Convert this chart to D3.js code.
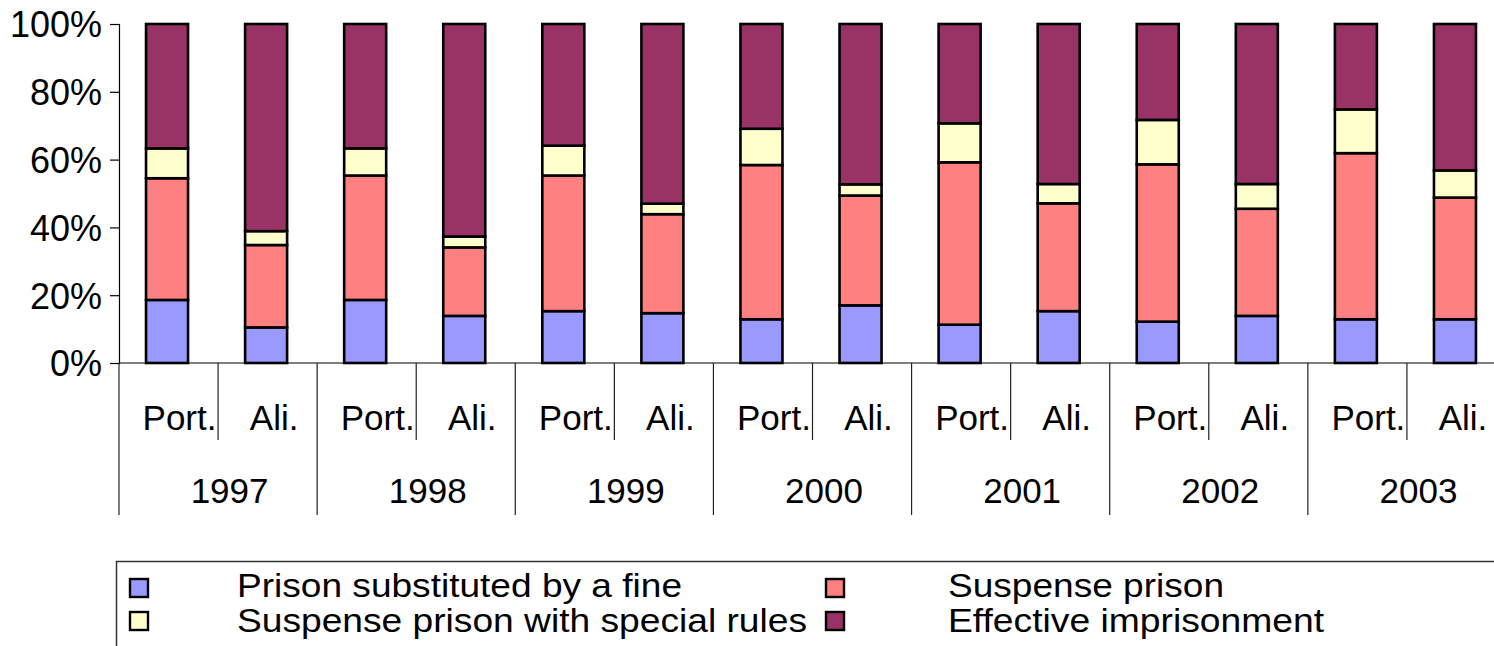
<!DOCTYPE html>
<html>
<head>
<meta charset="utf-8">
<script src="https://cdn.jsdelivr.net/npm/d3@7"></script>
<style>
  html, body { margin: 0; padding: 0; background: #fff; }
  svg { display: block; }
  text { font-family: "Liberation Sans", Arial, sans-serif; fill: #000; }
</style>
</head>
<body>
<svg id="chart" width="1494" height="646"></svg>
<script>
// ---- data ----
const years = ["1997", "1998", "1999", "2000", "2001", "2002", "2003"];
const groups = ["Port.", "Ali."];
const seriesNames = ["Prison substituted by a fine", "Suspense prison", "Suspense prison with special rules", "Effective imprisonment"];
const seriesColors = ["#9999FF", "#FF8080", "#FFFFCC", "#993366"];
// order: 1997 Port., 1997 Ali., 1998 Port., ...
const fineValues      = [18.6, 10.5, 18.6, 13.9, 15.3, 14.7, 12.9, 17.0, 11.3, 15.3, 12.2, 13.9, 12.9, 12.9];
const suspenseValues  = [35.9, 24.3, 36.7, 20.2, 40.0, 29.2, 45.5, 32.4, 47.9, 31.8, 46.4, 31.6, 49.0, 35.9];
const specialValues   = [ 8.8,  4.1,  8.0,  3.2,  8.8,  3.1, 10.7,  3.3, 11.5,  5.7, 13.1,  7.3, 12.9,  8.0];
const effectiveValues = [36.7, 61.1, 36.7, 62.7, 35.9, 53.0, 30.9, 47.3, 29.3, 47.2, 28.3, 47.2, 25.2, 43.2];
const yTicks = [0, 20, 40, 60, 80, 100];

(function () {
// ---- build table ----
const keys = ["fine", "suspense", "special", "effective"];
const rows = [];
years.forEach((yr, i) => groups.forEach((g, j) => {
  const k = i * 2 + j;
  rows.push({ id: yr + "|" + g, year: yr, group: g,
    fine: fineValues[k], suspense: suspenseValues[k], special: specialValues[k], effective: effectiveValues[k] });
}));

const svg = d3.select("#chart");
const pLeft = 119, pRight = 1506, pTop = 24, pBottom = 363;

const x = d3.scaleBand().domain(rows.map(r => r.id)).range([pLeft, pRight]).padding(0);
const y = d3.scaleLinear().domain([0, 100]).range([pBottom, pTop]);
const color = d3.scaleOrdinal().domain(keys).range(seriesColors);

const stacked = d3.stack().keys(keys)(rows);
const bw = x.bandwidth();
const barW = bw * 0.424;

// bars
svg.append("g").selectAll("g").data(stacked).join("g")
  .attr("fill", d => color(d.key))
  .selectAll("rect").data(d => d).join("rect")
  .attr("x", d => x(d.data.id) + (bw - barW) / 2 - 1.5)
  .attr("width", barW)
  .attr("y", d => y(d[1]))
  .attr("height", d => y(d[0]) - y(d[1]))
  .attr("stroke", "#000")
  .attr("stroke-width", 2.6);

// y axis
const yAxis = d3.axisLeft(y).tickValues(yTicks).tickFormat(d => d + "%").tickSize(9).tickPadding(8);
const yg = svg.append("g").attr("transform", `translate(${pLeft},0)`).call(yAxis);
yg.select(".domain").attr("stroke", "#000").attr("stroke-width", 1.2);
yg.selectAll(".tick line").attr("stroke", "#000").attr("stroke-width", 1.2).attr("x2", -9).attr("x1", 1);
yg.selectAll(".tick text").attr("font-size", "36px").attr("font-family", "Liberation Sans, Arial, sans-serif")
  .attr("fill", "#000").attr("dy", "0.36em");

// x axis baseline
svg.append("line").attr("x1", pLeft).attr("x2", pRight).attr("y1", pBottom).attr("y2", pBottom)
  .attr("stroke", "#000").attr("stroke-width", 1.2);

// inner separators (between Port. and Ali.)
const sepG = svg.append("g").attr("stroke", "#222").attr("stroke-width", 1.2);
rows.forEach(r => {
  if (r.group === "Ali.") {
    const xx = x(r.id);
    sepG.append("line").attr("x1", xx).attr("x2", xx).attr("y1", pBottom).attr("y2", 440);
  }
});
// year separators
years.concat(["end"]).forEach((yr, i) => {
  const xx = pLeft + i * 2 * bw;
  sepG.append("line").attr("x1", xx).attr("x2", xx).attr("y1", pBottom).attr("y2", 515);
});

// group labels
svg.append("g").selectAll("text").data(rows).join("text")
  .attr("x", d => x(d.id) + bw / 2 + (d.group === "Port." ? 11 : 6.5))
  .attr("y", 430)
  .attr("text-anchor", "middle")
  .attr("font-size", "35px")
  .text(d => d.group);

// year labels
svg.append("g").selectAll("text").data(years).join("text")
  .attr("x", (d, i) => pLeft + i * 2 * bw + bw + 11.5)
  .attr("y", 503)
  .attr("text-anchor", "middle")
  .attr("font-size", "35px")
  .text(d => d);

// legend
const lg = svg.append("g");
lg.append("rect").attr("x", 116.5).attr("y", 561.5).attr("width", 1500).attr("height", 200)
  .attr("fill", "none").attr("stroke", "#333").attr("stroke-width", 1.5);
const legendItems = [
  { k: 0, sx: 130, tx: 237, row: 0, w: 445 },
  { k: 1, sx: 826, tx: 948, row: 0, w: 276 },
  { k: 2, sx: 130, tx: 237, row: 1, w: 570 },
  { k: 3, sx: 826, tx: 948, row: 1, w: 376 }
];
legendItems.forEach(it => {
  lg.append("rect").attr("x", it.sx).attr("y", 579 + it.row * 33).attr("width", 18).attr("height", 18)
    .attr("fill", seriesColors[it.k]).attr("stroke", "#000").attr("stroke-width", 2.4);
  lg.append("text").attr("x", it.tx).attr("y", 597 + it.row * 34.5)
    .attr("font-size", "33px")
    .attr("textLength", it.w).attr("lengthAdjust", "spacingAndGlyphs")
    .text(seriesNames[it.k]);
});
})();
</script>
</body>
</html>
